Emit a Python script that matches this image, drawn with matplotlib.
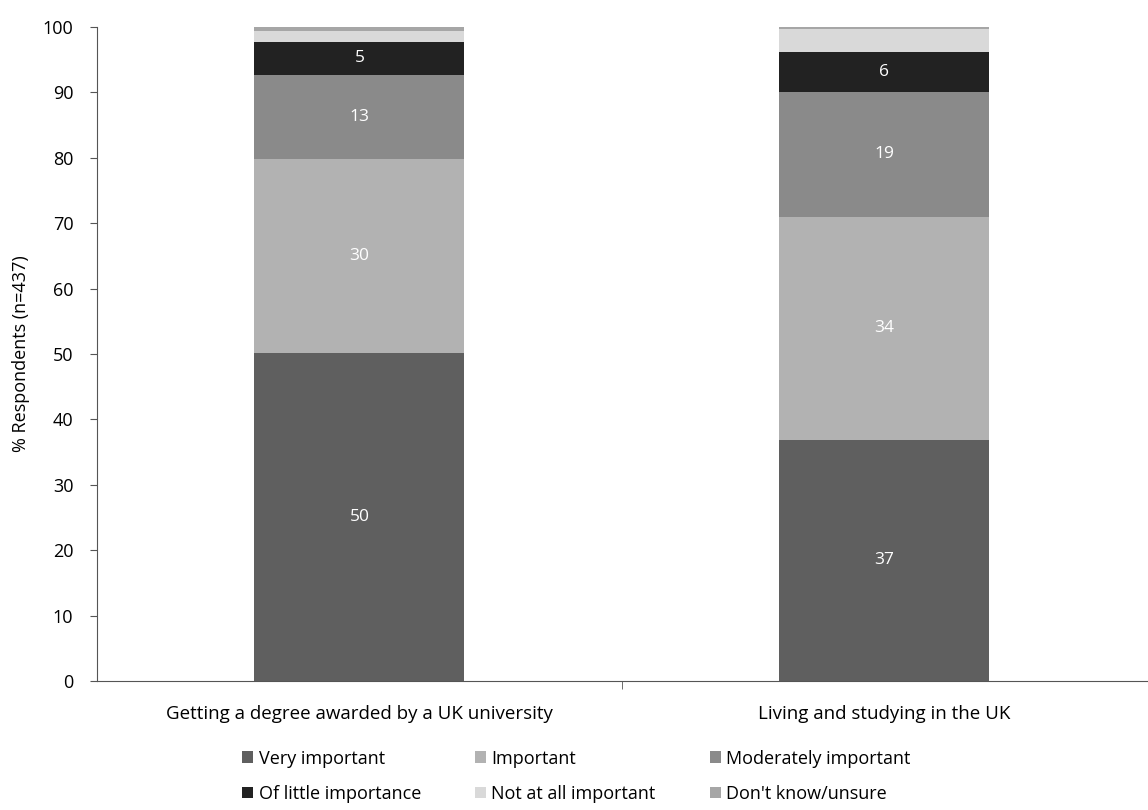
import matplotlib
matplotlib.use("Agg")
import matplotlib.pyplot as plt
from matplotlib.patches import Patch
import numpy as np

categories = ["Getting a degree awarded by a UK university", "Living and studying in the UK"]
series_names = ["Very important", "Important", "Moderately important",
                "Of little importance", "Not at all important", "Don't know/unsure"]
very_important = [50.2, 36.9]
important = [29.6, 34.1]
moderately_important = [12.9, 19.0]
little_importance = [4.9, 6.1]
not_important = [1.8, 3.5]
dont_know = [0.6, 0.4]
shown_labels = [[50, 37], [30, 34], [13, 19], [5, 6], None, None]

colors = ["#5f5f5f", "#b2b2b2", "#8a8a8a", "#222222", "#d9d9d9", "#a6a6a6"]

plt.rcParams['font.family'] = ['Open Sans', 'DejaVu Sans']

fig = plt.figure(figsize=(11.48, 8.1), dpi=100)
ax = fig.add_axes([0.0845, 0.159, 0.9145, 0.808])

x = np.arange(len(categories))
series = [very_important, important, moderately_important, little_importance, not_important, dont_know]
bottom = np.zeros(len(categories))
handles = []
for vals, name, col, labs in zip(series, series_names, colors, shown_labels):
    vals = np.array(vals)
    ax.bar(x, vals, width=0.4, bottom=bottom, color=col, edgecolor="none")
    if labs is not None:
        for xi, v, b, lab in zip(x, vals, bottom, labs):
            ax.text(xi, b + v / 2, str(lab), ha="center", va="center",
                    color="white", fontsize=12.5)
    handles.append(Patch(facecolor=col, label=name))
    bottom += vals

ax.set_xlim(-0.5, 1.5)
ax.set_ylim(0, 100)
ax.set_yticks(range(0, 101, 10))
ax.set_ylabel("% Respondents (n=437)", fontsize=13, labelpad=9)
ax.set_xticks(x)
ax.set_xticklabels(categories, fontsize=13.5)
ax.set_xticks([0.5], minor=True)
ax.tick_params(axis="x", which="major", length=0, pad=17)
ax.tick_params(axis="x", which="minor", length=6, direction="out", color="#555555")
ax.tick_params(axis="y", length=5, direction="out", labelsize=13, pad=12, color="#555555")
for side in ["top", "right"]:
    ax.spines[side].set_visible(False)
for side in ["left", "bottom"]:
    ax.spines[side].set_color("#555555")

# legend ordered row-wise
order = [0, 3, 1, 4, 2, 5]
fig.legend([handles[i] for i in order], [series_names[i] for i in order],
           loc="lower center", bbox_to_anchor=(0.502, -0.011), ncol=3, frameon=False,
           fontsize=13, handlelength=0.6, handleheight=0.6, handletextpad=0.3,
           columnspacing=3.0, labelspacing=0.95)

fig.savefig("out.png", dpi=100)
